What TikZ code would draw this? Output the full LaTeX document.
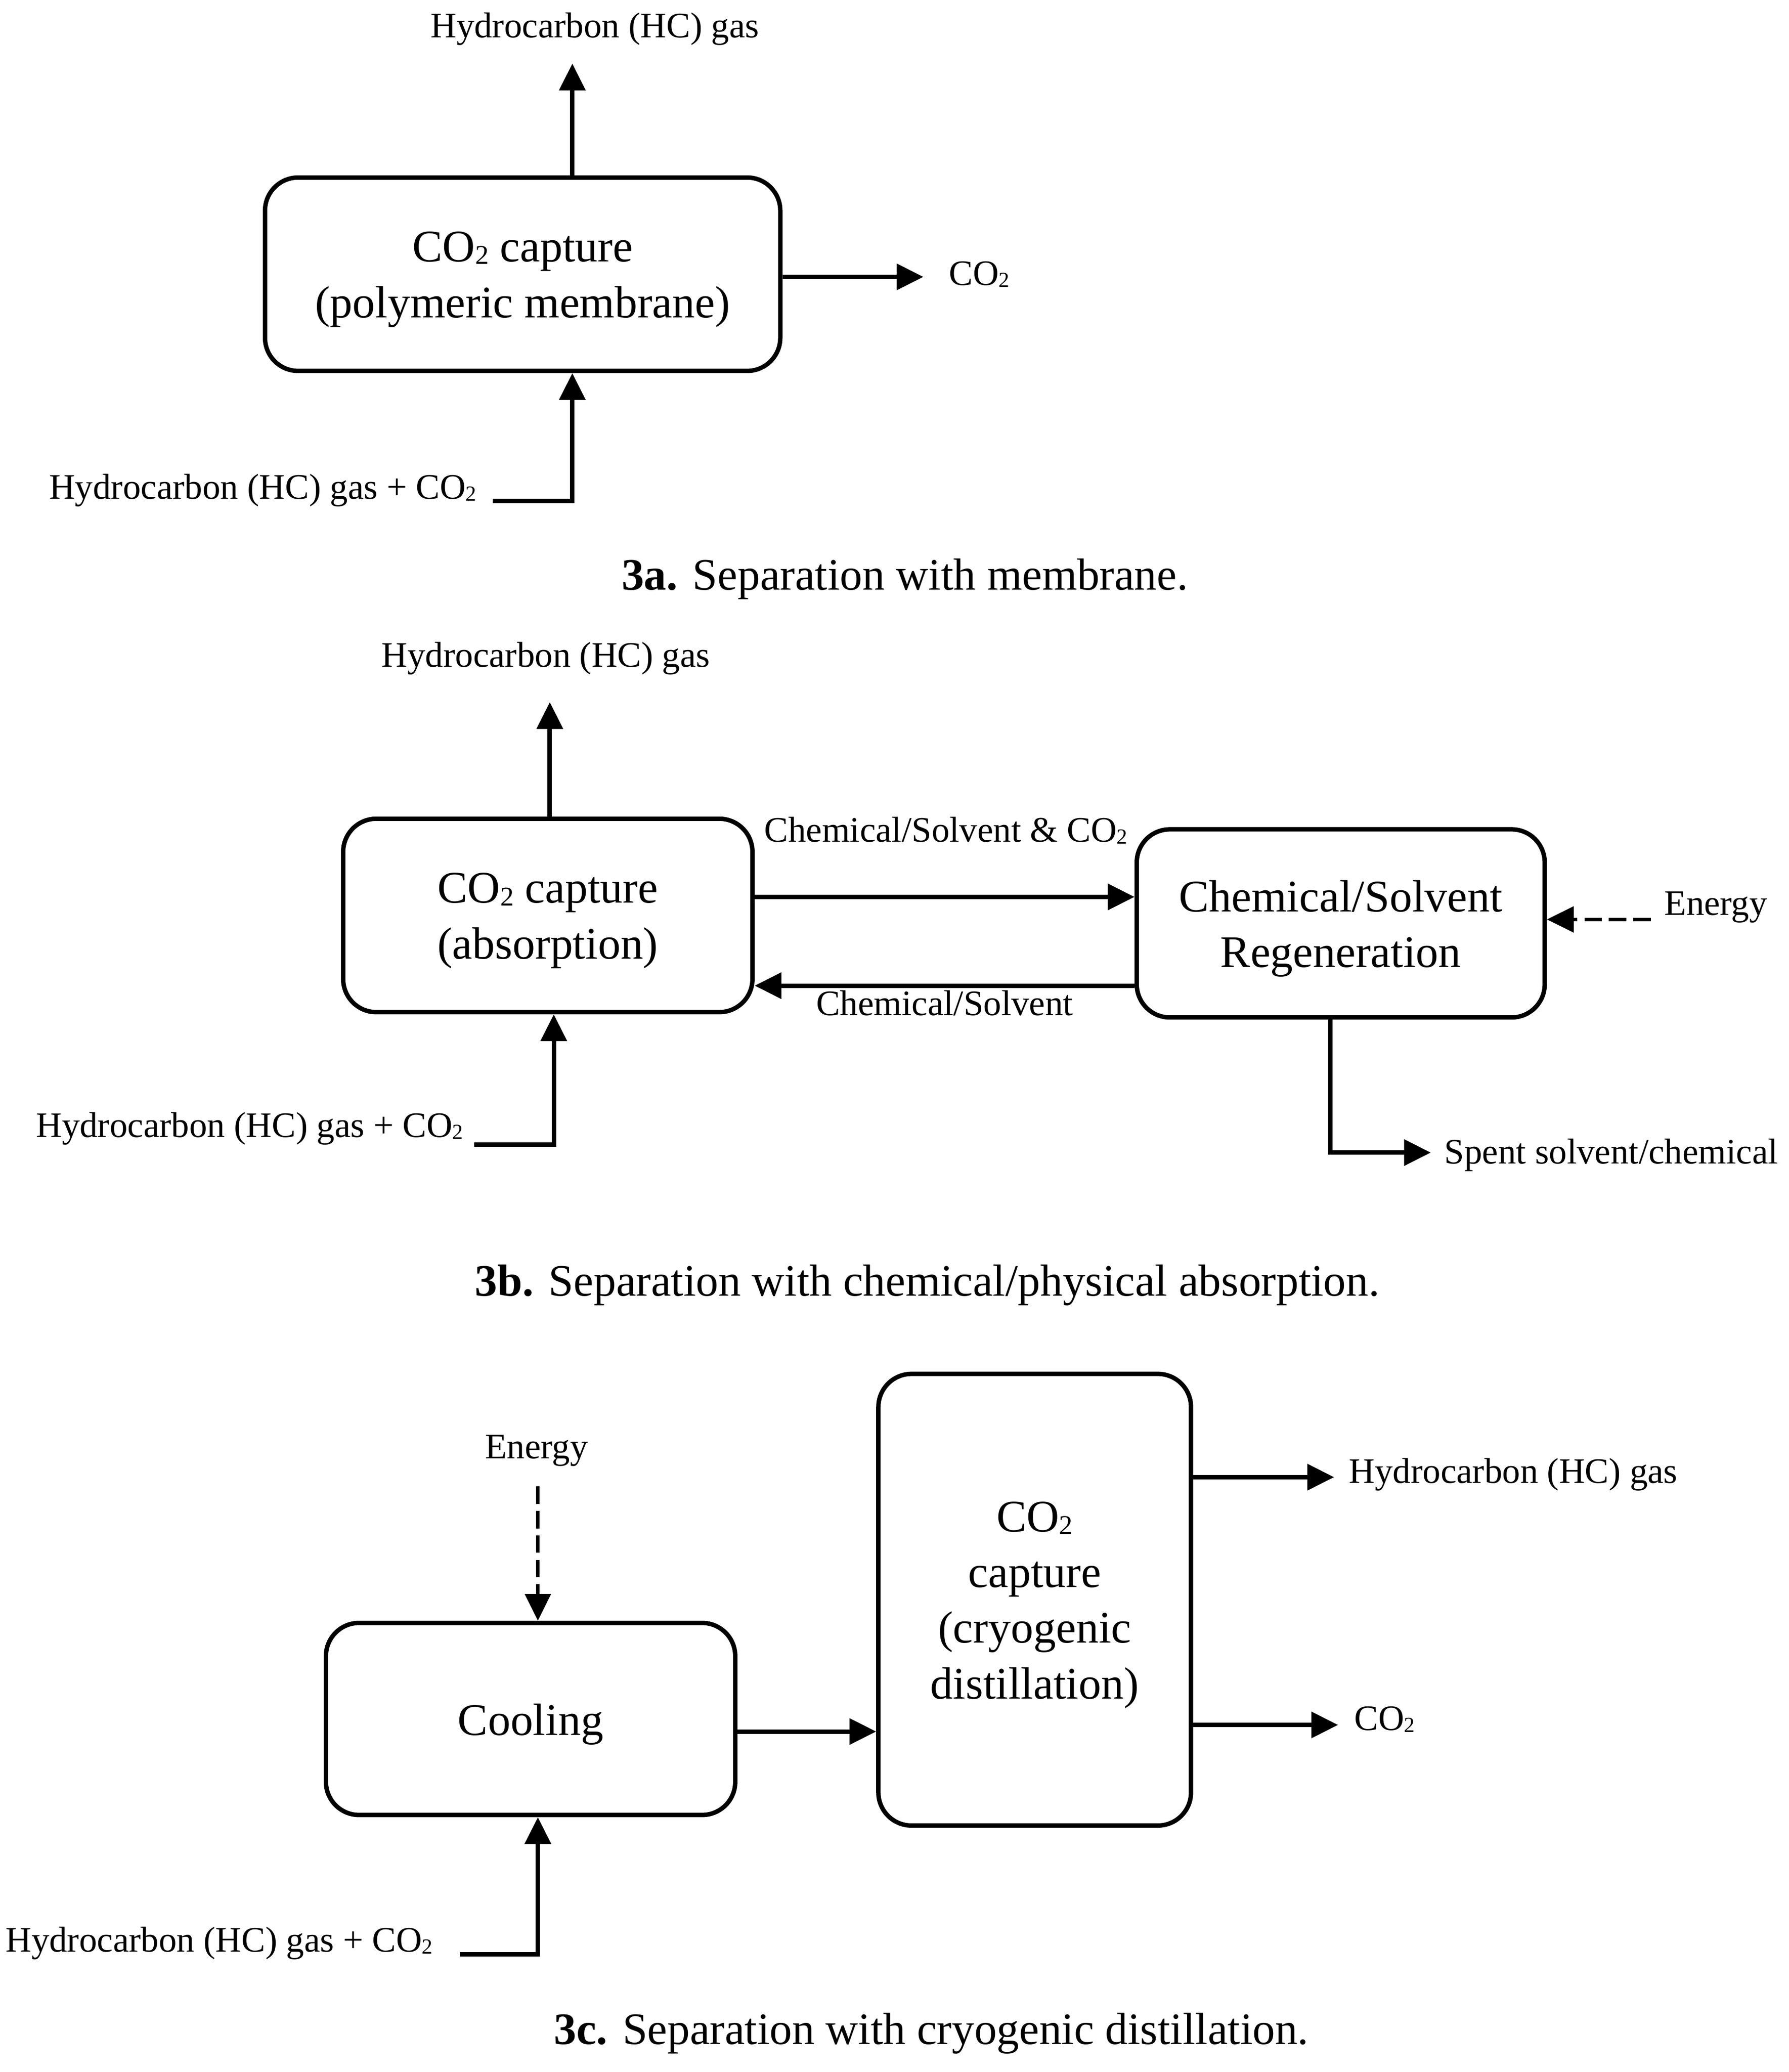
\documentclass[tikz,border=0pt]{standalone}
\usepackage{fontspec}
\setmainfont{Liberation Serif}
\usetikzlibrary{arrows.meta}
\newcommand{\COt}{CO\raisebox{-0.12ex}{\scalebox{0.6}{2}}}
\begin{document}
\begin{tikzpicture}[x=0.02cm,y=-0.02cm,
  proc/.style={draw,line width=1.9pt,rounded corners=0.5cm,inner sep=0pt},
  proctext/.style={align=center,inner sep=0pt,yshift=-0.08cm,font=\fontsize{19.4}{23.9}\selectfont},
  lbl/.style={inner sep=0pt,font=\fontsize{15.4}{18}\selectfont},
  captxt/.style={inner sep=0pt,font=\fontsize{19.3}{23}\selectfont},
  arr/.style={line width=1.9pt,-{Triangle[length=11.5pt,width=11pt]}},
  darr/.style={line width=1.4pt,dash pattern=on 7.5pt off 3pt,-{Triangle[length=11.5pt,width=11pt]}},
]
\useasboundingbox[fill=white] (0,0) rectangle (1350,1564);

% ---------- Panel a ----------
\node[proc,minimum width=7.78cm,minimum height=2.92cm,label={[proctext]center:\COt{} capture\\(polymeric membrane)}] (A) at (394.5,207) {};
\node[lbl] (Ta) at (449,22) {Hydrocarbon (HC) gas};
\node[lbl,anchor=west] (COa) at (716,207) {\COt};
\node[lbl,anchor=east] (Ia) at (360,370) {Hydrocarbon (HC) gas + \COt};
\node[captxt] (capa) at (683,437) {\textbf{3a.} Separation with membrane.};
\coordinate (a1) at (432,48);
\coordinate (a2) at (697,209);
\coordinate (a3s) at (372,378);
\coordinate (a3c) at (432,378);
\draw[arr] (A.north -| a1) -- (a1);
\draw[arr] (A.east |- a2) -- (a2);
\draw[arr] (a3s) -- (a3c) -- (A.south -| a3c);

% ---------- Panel b ----------
\node[proc,minimum width=6.18cm,minimum height=2.92cm,label={[proctext]center:\COt{} capture\\(absorption)}] (B1) at (413.5,691) {};
\node[proc,minimum width=6.16cm,minimum height=2.84cm,label={[proctext]center:Chemical/Solvent\\Regeneration}] (B2) at (1012,697) {};
\node[lbl] (Tb) at (412,497) {Hydrocarbon (HC) gas};
\node[lbl] (CSC) at (714,627) {Chemical/Solvent \& \COt};
\node[lbl] (CS) at (713,757) {Chemical/Solvent};
\node[lbl,anchor=west] (Eb) at (1256,685) {Energy};
\node[lbl,anchor=west] (Sp) at (1090,872) {Spent solvent/chemical};
\node[lbl,anchor=east] (Ib) at (350,852) {Hydrocarbon (HC) gas + \COt};
\node[captxt] (capb) at (700,970) {\textbf{3b.} Separation with chemical/physical absorption.};
\coordinate (b1) at (415,530);
\coordinate (bf) at (0,677);
\coordinate (bb) at (0,744);
\coordinate (eb) at (1246,694);
\coordinate (sp1) at (1004,870);
\coordinate (sp2) at (1080,870);
\coordinate (ib1) at (358,864);
\coordinate (ib2) at (418,864);
\draw[arr] (B1.north -| b1) -- (b1);
\draw[arr] (B1.east |- bf) -- (B2.west |- bf);
\draw[arr] (B2.west |- bb) -- (B1.east |- bb);
\draw[darr] (eb) -- (B2.east |- eb);
\draw[arr] (B2.south -| sp1) -- (sp1) -- (sp2);
\draw[arr] (ib1) -- (ib2) -- (B1.south -| ib2);

% ---------- Panel c ----------
\node[proc,minimum width=6.18cm,minimum height=2.9cm,label={[proctext]center:Cooling}] (C1) at (400.5,1297.5) {};
\node[proc,minimum width=4.72cm,minimum height=6.82cm,label={[proctext]center:\COt\\capture\\(cryogenic\\distillation)}] (C2) at (781,1207.5) {};
\node[lbl] (Ec) at (405,1095) {Energy};
\node[lbl,anchor=east] (Ic) at (327,1467) {Hydrocarbon (HC) gas + \COt};
\node[lbl,anchor=west] (Hc) at (1018,1113) {Hydrocarbon (HC) gas};
\node[lbl,anchor=west] (COc) at (1022,1298) {\COt};
\node[captxt] (capc) at (703,1535) {\textbf{3c.} Separation with cryogenic distillation.};
\coordinate (ec) at (406,1122);
\coordinate (ic1) at (347,1475);
\coordinate (ic2) at (406,1475);
\coordinate (cc) at (0,1307);
\coordinate (ch) at (1007,1115);
\coordinate (cco) at (1010,1302);
\draw[darr] (ec) -- (C1.north -| ec);
\draw[arr] (ic1) -- (ic2) -- (C1.south -| ic2);
\draw[arr] (C1.east |- cc) -- (C2.west |- cc);
\draw[arr] (C2.east |- ch) -- (ch);
\draw[arr] (C2.east |- cco) -- (cco);
\end{tikzpicture}
\end{document}
